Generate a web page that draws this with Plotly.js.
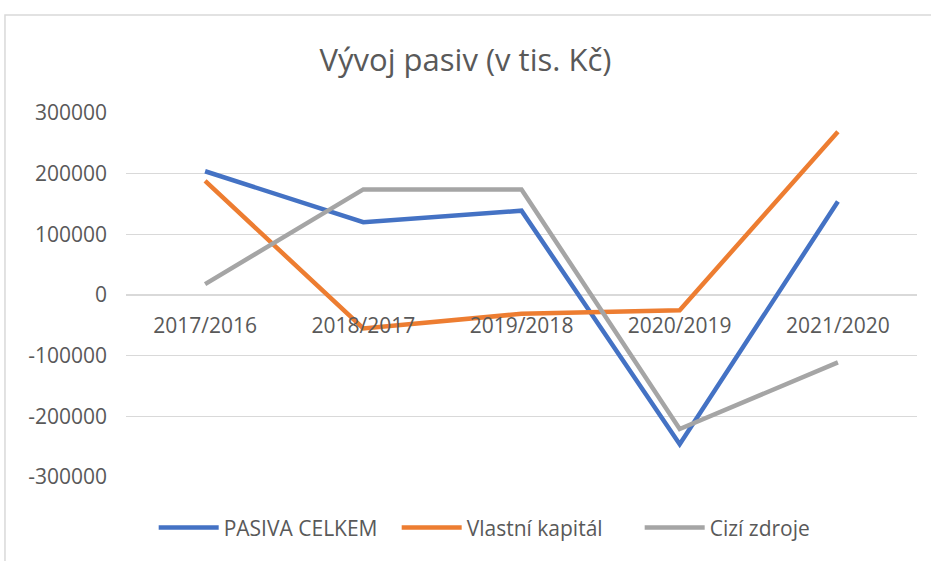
<!DOCTYPE html>
<html>
<head>
<meta charset="utf-8">
<script src="https://cdn.plot.ly/plotly-3.0.1.min.js"></script>
<style>
html,body{margin:0;padding:0;background:#fff;}
#chart{width:931px;height:561px;}
</style>
</head>
<body>
<div id="chart"></div>
<script>
const categories = ["2017/2016", "2018/2017", "2019/2018", "2020/2019", "2021/2020"];
const pasivaCelkem = [204000, 120000, 139000, -246000, 154000];
const vlastniKapital = [188000, -55000, -31000, -25000, 269000];
const ciziZdroje = [18000, 174000, 174000, -221000, -111000];
const yTickVals = [-300000, -200000, -100000, 0, 100000, 200000, 300000];
const yTickText = ["-300000", "-200000", "-100000", "0", "100000", "200000", "300000"];

const FONT = "Open Sans, Noto Sans, Liberation Sans, sans-serif";
const TXT = "#595959";

function tr(name, y, color) {
  return {
    type: "scatter", mode: "lines", name: name,
    x: categories, y: y,
    line: {color: color, width: 4.5, shape: "linear"},
    hoverinfo: "skip"
  };
}

const data = [
  tr("PASIVA CELKEM", pasivaCelkem, "#4472C4"),
  tr("Vlastní kapitál", vlastniKapital, "#ED7D31"),
  tr("Cizí zdroje", ciziZdroje, "#A5A5A5")
];

const layout = {
  width: 931, height: 561,
  margin: {l: 126, r: 14, t: 113, b: 81},
  paper_bgcolor: "#fff", plot_bgcolor: "#fff",
  font: {family: FONT, color: TXT, size: 21},
  title: {
    text: "Vývoj pasiv (v tis. Kč)",
    font: {family: FONT, size: 31, color: TXT},
    x: 0.5, xanchor: "center", y: 0.893, yanchor: "middle"
  },
  xaxis: {
    type: "category",
    range: [-0.5, 4.5],
    anchor: "free", position: 0.5,
    showgrid: false, showline: false, zeroline: false,
    ticks: "", ticklabelstandoff: 16,
    tickfont: {family: FONT, size: 21, color: TXT},
    fixedrange: true
  },
  yaxis: {
    range: [-300000, 300000],
    tickvals: yTickVals, ticktext: yTickText,
    showgrid: true, gridcolor: "#d9d9d9", gridwidth: 1.3,
    zeroline: true, zerolinecolor: "#d9d9d9", zerolinewidth: 1.3,
    showline: false, ticks: "", ticklabelstandoff: 18,
    tickfont: {family: FONT, size: 21, color: TXT},
    fixedrange: true
  },
  showlegend: true,
  legend: {
    orientation: "h", x: 0.035, xanchor: "left",
    y: -0.14, yanchor: "middle",
    font: {family: FONT, size: 21, color: TXT},
    itemwidth: 60, entrywidth: 168, entrywidthmode: "pixels", tracegroupgap: 0
  },
  shapes: [{
    type: "rect", xref: "paper", yref: "paper",
    x0: -0.153, x1: 1.06, y0: -0.3, y1: 1.269,
    line: {color: "#d9d9d9", width: 1.5}, fillcolor: "rgba(0,0,0,0)",
    layer: "below"
  }]
};

Plotly.newPlot("chart", data, layout, {displayModeBar: false, staticPlot: true});
</script>
</body>
</html>
